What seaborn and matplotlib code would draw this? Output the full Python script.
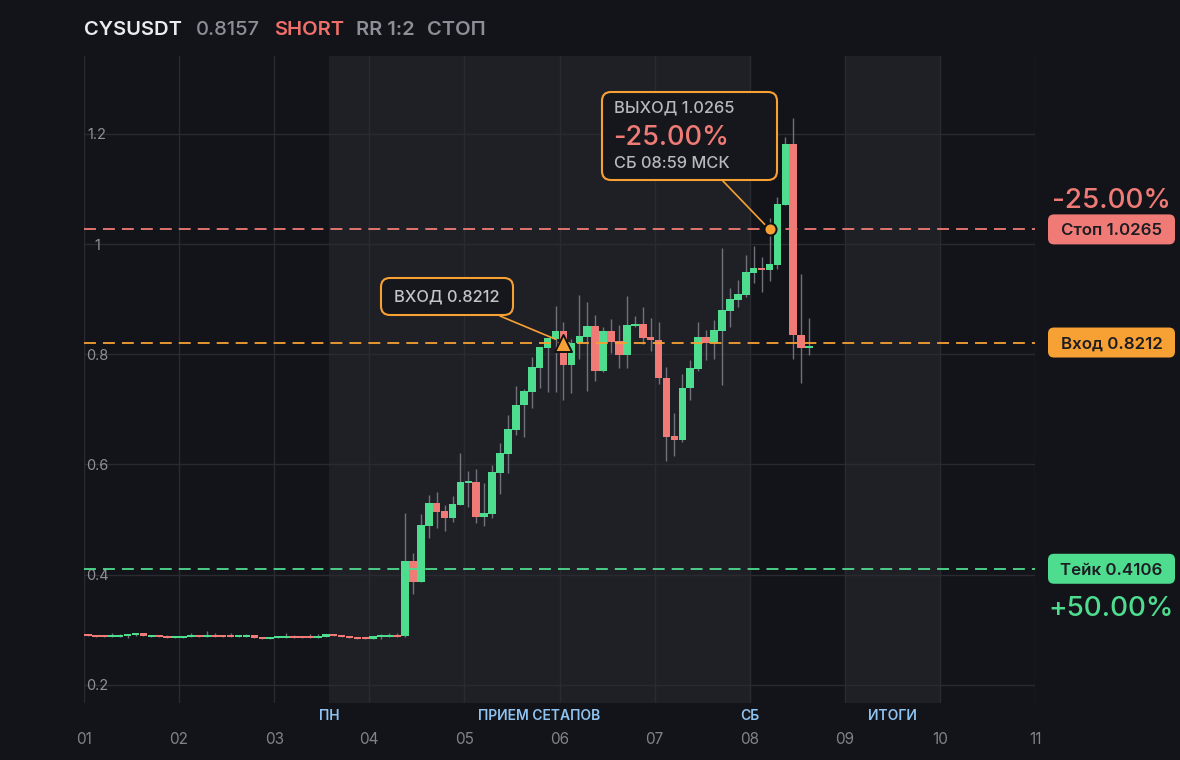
import numpy as np
import pandas as pd
import seaborn as sns
import matplotlib
matplotlib.use("Agg")
import matplotlib.pyplot as plt
from matplotlib.patches import FancyBboxPatch
from matplotlib.transforms import IdentityTransform
from matplotlib.ticker import FuncFormatter

# ---------------- data ----------------
symbol = "CYSUSDT"
last_price = "0.8157"
side = "SHORT"
rr_text = "RR 1:2"
outcome = "СТОП"

entry_price = 0.8212
stop_price = 1.0265
take_price = 0.4106
stop_pct = "-25.00%"
take_pct = "+50.00%"
entry_text = "ВХОД 0.8212"
exit_title = "ВЫХОД 1.0265"
exit_time = "СБ 08:59 МСК"
stop_tag = "Стоп 1.0265"
entry_tag = "Вход 0.8212"
take_tag = "Тейк 0.4106"

start_day = 1
candle_hours = 2
entry_idx = 60
exit_idx = 86

opens = [0.2922, 0.2904, 0.2904, 0.2873, 0.2873, 0.2891, 0.2910, 0.2940, 0.2873, 0.2904,
         0.2886, 0.2855, 0.2855, 0.2873, 0.2904, 0.2873, 0.2904, 0.2904, 0.2904, 0.2873,
         0.2873, 0.2904, 0.2868, 0.2837, 0.2855, 0.2855, 0.2886, 0.2886, 0.2886, 0.2855,
         0.2873, 0.2922, 0.2904, 0.2886, 0.2868, 0.2868, 0.2837, 0.2873, 0.2873, 0.2904,
         0.2886, 0.4247, 0.3866, 0.4890, 0.5300, 0.5155, 0.5033, 0.5270, 0.5665, 0.5680,
         0.5050, 0.5105, 0.5850, 0.6190, 0.6630, 0.7070, 0.7320, 0.7750, 0.8120, 0.8280,
         0.8420, 0.7810, 0.8200, 0.8320, 0.8510, 0.7700, 0.8420, 0.8240, 0.7990, 0.8520,
         0.8550, 0.8310, 0.8260, 0.7570, 0.6520, 0.6450, 0.7380, 0.7740, 0.8310, 0.8210,
         0.8430, 0.8790, 0.8980, 0.9080, 0.9480, 0.9570, 0.9520, 0.9625, 1.0710, 1.1815,
         0.8354, 0.8120]
closes = [0.2891, 0.2873, 0.2873, 0.2904, 0.2904, 0.2922, 0.2940, 0.2891, 0.2904, 0.2873,
          0.2855, 0.2886, 0.2886, 0.2904, 0.2873, 0.2904, 0.2873, 0.2873, 0.2873, 0.2904,
          0.2904, 0.2849, 0.2837, 0.2868, 0.2886, 0.2886, 0.2855, 0.2855, 0.2855, 0.2886,
          0.2922, 0.2891, 0.2873, 0.2855, 0.2837, 0.2837, 0.2886, 0.2904, 0.2904, 0.2873,
          0.4247, 0.3866, 0.4900, 0.5300, 0.5142, 0.5033, 0.5280, 0.5680, 0.5680, 0.5050,
          0.5120, 0.5860, 0.6210, 0.6640, 0.7080, 0.7330, 0.7760, 0.8130, 0.8290, 0.8420,
          0.7810, 0.8200, 0.8330, 0.8510, 0.7700, 0.8420, 0.8230, 0.7990, 0.8530, 0.8550,
          0.8300, 0.8250, 0.7560, 0.6500, 0.6450, 0.7390, 0.7750, 0.8310, 0.8210, 0.8440,
          0.8800, 0.9000, 0.9090, 0.9490, 0.9570, 0.9520, 0.9640, 1.0726, 1.1815, 0.8354,
          0.8120, 0.8157]
highs = [0.2925, 0.2906, 0.2906, 0.2940, 0.2922, 0.2922, 0.2940, 0.2940, 0.2904, 0.2904,
         0.2904, 0.2886, 0.2886, 0.2940, 0.2904, 0.2976, 0.2940, 0.2904, 0.2940, 0.2904,
         0.2922, 0.2904, 0.2868, 0.2868, 0.2886, 0.2940, 0.2910, 0.2886, 0.2922, 0.2922,
         0.2922, 0.2922, 0.2904, 0.2886, 0.2868, 0.2868, 0.2886, 0.2922, 0.2940, 0.2940,
         0.5118, 0.4390, 0.5100, 0.5445, 0.5500, 0.5263, 0.5430, 0.6210, 0.5880, 0.5920,
         0.5660, 0.5990, 0.6390, 0.6900, 0.7420, 0.7370, 0.7950, 0.8130, 0.8290, 0.8875,
         0.8580, 0.8280, 0.9075, 0.8950, 0.8710, 0.8490, 0.8640, 0.8530, 0.9056, 0.8690,
         0.8860, 0.8660, 0.8590, 0.7770, 0.6930, 0.7640, 0.7895, 0.8590, 0.8440, 0.8620,
         0.9930, 0.9210, 0.9350, 0.9806, 0.9970, 0.9770, 1.0480, 1.0850, 1.1940, 1.2290,
         0.9460, 0.8660]
lows = [0.2888, 0.2870, 0.2870, 0.2873, 0.2873, 0.2855, 0.2891, 0.2891, 0.2873, 0.2873,
        0.2855, 0.2855, 0.2855, 0.2873, 0.2873, 0.2873, 0.2873, 0.2873, 0.2873, 0.2873,
        0.2873, 0.2849, 0.2837, 0.2837, 0.2855, 0.2855, 0.2855, 0.2855, 0.2855, 0.2855,
        0.2873, 0.2891, 0.2873, 0.2855, 0.2837, 0.2837, 0.2837, 0.2837, 0.2873, 0.2873,
        0.2873, 0.3653, 0.3866, 0.4670, 0.4837, 0.4800, 0.4960, 0.5270, 0.5230, 0.4940,
        0.4890, 0.5030, 0.5470, 0.5850, 0.6540, 0.6500, 0.7020, 0.7390, 0.7320, 0.7320,
        0.7170, 0.7300, 0.7910, 0.7340, 0.7520, 0.7670, 0.8030, 0.7755, 0.7755, 0.8500,
        0.8190, 0.8060, 0.7460, 0.6070, 0.6160, 0.6410, 0.7160, 0.7700, 0.7900, 0.7920,
        0.7440, 0.8500, 0.8860, 0.9040, 0.9300, 0.9130, 0.9320, 0.9550, 1.0700, 0.7920,
        0.7480, 0.7990]

day_ticks = [1, 2, 3, 4, 5, 6, 7, 8, 9, 10, 11]
day_labels = ["01", "02", "03", "04", "05", "06", "07", "08", "09", "10", "11"]
price_ticks = [0.2, 0.4, 0.6, 0.8, 1.0, 1.2]

session_spans = [(3.58, 8.0), (9.0, 10.0)]
session_edge_labels = [("ПН", 3.58), ("СБ", 8.0)]
session_mid_labels = ["ПРИЕМ СЕТАПОВ", "ИТОГИ"]

# ---------------- style ----------------
BG = "#131419"
SHADE = "#1f2025"
GRID = "#2a2b31"
GREEN = "#4edc8f"
RED = "#f07b76"
ORANGE = "#f7a033"
WICK = "#6f727a"
TICK = "#80838b"

sns.set_theme(style="dark", rc={"axes.facecolor": BG, "figure.facecolor": BG})
plt.rcParams["font.family"] = ["Inter", "DejaVu Sans"]

W, H = 1180, 760
fig = plt.figure(figsize=(W / 100, H / 100), dpi=100, facecolor=BG)
ax = fig.add_axes([84 / W, (H - 703) / H, (1035 - 84) / W, (703 - 56) / H])
ax.set_facecolor(BG)
for s in ax.spines.values():
    s.set_visible(False)

df = pd.DataFrame({"open": opens, "high": highs, "low": lows, "close": closes})
slot = candle_hours / 24
df["x"] = start_day + (np.arange(len(df)) + 0.5) * slot
df["up"] = df["close"] >= df["open"]
min_body = 0.003
df["bottom"] = df[["open", "close"]].min(axis=1)
df["height"] = (df["close"] - df["open"]).abs().clip(lower=min_body)

ax.set_xlim(1, 11)
ax.set_ylim(0.1670, 1.3412)

for a, b in session_spans:
    ax.axvspan(a, b, color=SHADE, zorder=0, lw=0)

ax.set_axisbelow(True)
ax.grid(True, color=GRID, lw=1)
ax.set_xticks(day_ticks)
ax.set_xticklabels(day_labels)
ax.set_yticks(price_ticks)
ax.yaxis.set_major_formatter(FuncFormatter(lambda v, p: f"{v:g}"))
ax.tick_params(axis="x", length=0, pad=21, labelsize=11, labelcolor=TICK)
ax.tick_params(axis="y", length=0, pad=-9.4, labelsize=10.5, labelcolor="#8e9198")
for lab in ax.get_yticklabels():
    lab.set_horizontalalignment("center")

# candles
ax.vlines(df["x"], df["low"], df["high"], color=WICK, lw=1, zorder=2)
ax.bar(df["x"], df["height"], bottom=df["bottom"], width=slot * 0.96,
       color=np.where(df["up"], GREEN, RED), lw=0, zorder=3)

# levels
dash = (0, (6.6, 3.9))
ax.axhline(stop_price, color=RED, lw=1.3, ls=dash, zorder=4)
ax.axhline(entry_price, color=ORANGE, lw=1.3, ls=dash, zorder=4)
ax.axhline(take_price, color=GREEN, lw=1.3, ls=dash, zorder=4)

# entry / exit markers
ex = df["x"].iloc[entry_idx]
xx = df["x"].iloc[exit_idx]
sns.scatterplot(x=[ex], y=[entry_price], marker="^", s=150, color=ORANGE,
                edgecolor="#101114", linewidth=1.4, zorder=7, ax=ax, legend=False)
sns.scatterplot(x=[xx], y=[stop_price], marker="o", s=75, color=ORANGE,
                edgecolor="#101114", linewidth=1.4, zorder=7, ax=ax, legend=False)

ID = IdentityTransform()


def P(x, y_top):
    return (x, H - y_top)


def rbox(x0, y0_top, w, h, fc, ec="none", lw=0, r=6, z=8):
    patch = FancyBboxPatch(P(x0, y0_top + h), w, h,
                           boxstyle=f"round,pad=0,rounding_size={r}",
                           fc=fc, ec=ec, lw=lw, transform=ID, zorder=z)
    fig.add_artist(patch)


# entry annotation
rbox(381, 278, 132, 37, "#16171c", ORANGE, 1.5, r=9)
fig.text(*P(447, 297), entry_text, transform=ID, ha="center", va="center",
         fontsize=11.8, color="#c3c5cb", fontweight="medium", zorder=9)
ax.annotate("", xy=(ex, entry_price), xycoords="data",
            xytext=P(500, 316), textcoords=ID,
            arrowprops=dict(arrowstyle="-", color=ORANGE, lw=1.2,
                            shrinkA=0, shrinkB=6), zorder=6)

# exit annotation
rbox(602, 92, 175, 88, "#16171c", ORANGE, 1.5, r=9)
fig.text(*P(614, 108), exit_title, transform=ID, ha="left", va="center",
         fontsize=11.8, color="#b7b9bf", fontweight="medium", zorder=9)
fig.text(*P(613, 138), stop_pct, transform=ID, ha="left", va="center",
         fontsize=19.5, color=RED, fontweight="medium", zorder=9)
fig.text(*P(614, 163), exit_time, transform=ID, ha="left", va="center",
         fontsize=11.8, color="#b7b9bf", fontweight="medium", zorder=9)
ax.annotate("", xy=(xx, stop_price), xycoords="data",
            xytext=P(722, 180), textcoords=ID,
            arrowprops=dict(arrowstyle="-", color=ORANGE, lw=1.2,
                            shrinkA=0, shrinkB=5), zorder=6)

# right-side tags
for level, tag, col in [(stop_price, stop_tag, RED), (entry_price, entry_tag, ORANGE),
                        (take_price, take_tag, GREEN)]:
    yd = ax.transData.transform((1, level))[1]
    patch = FancyBboxPatch((1048, yd - 15), 127, 30, boxstyle="round,pad=0,rounding_size=6",
                           fc=col, ec="none", transform=ID, zorder=8)
    fig.add_artist(patch)
    fig.text(1111.5, yd, tag, transform=ID, ha="center", va="center_baseline",
             fontsize=12.2, color="#1c1d22", fontweight="semibold", zorder=9)

yd_stop = ax.transData.transform((1, stop_price))[1]
yd_take = ax.transData.transform((1, take_price))[1]
fig.text(1111, yd_stop + 31, stop_pct, transform=ID, ha="center", va="center_baseline",
         fontsize=20, color=RED, fontweight="medium")
fig.text(1111, yd_take - 37, take_pct, transform=ID, ha="center", va="center_baseline",
         fontsize=20, color=GREEN, fontweight="medium")

# session labels
LBL = "#8fc4f2"
lab_y = ax.transAxes.transform((0, 0))[1] - 13
for txt, xv in session_edge_labels:
    xd = ax.transData.transform((xv, 0))[0]
    fig.text(xd, lab_y, txt, transform=ID, ha="center", va="center",
             fontsize=10, color=LBL, fontweight="semibold")
for txt, (a, b) in zip(session_mid_labels, session_spans):
    xd = ax.transData.transform(((a + b) / 2, 0))[0]
    fig.text(xd, lab_y, txt, transform=ID, ha="center", va="center",
             fontsize=10, color=LBL, fontweight="semibold")

# header
hy = H - 35
fig.text(84, hy, symbol, transform=ID, ha="left", va="baseline", fontsize=14.5,
         color="#ebecef", fontweight="semibold")
fig.text(196, hy, last_price, transform=ID, ha="left", va="baseline", fontsize=14.5,
         color="#8c8f97", fontweight="medium")
fig.text(274, hy, side, transform=ID, ha="left", va="baseline", fontsize=14.5,
         color="#ef6f6a", fontweight="semibold")
fig.text(356, hy, rr_text, transform=ID, ha="left", va="baseline", fontsize=14.5,
         color="#8c8f97", fontweight="semibold")
fig.text(427, hy, outcome, transform=ID, ha="left", va="baseline", fontsize=14.5,
         color="#8c8f97", fontweight="semibold")

fig.savefig("out.png", dpi=100, facecolor=BG)
